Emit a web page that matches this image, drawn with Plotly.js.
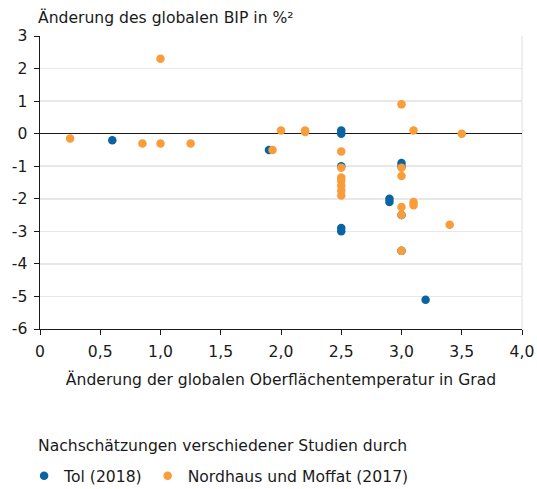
<!DOCTYPE html>
<html>
<head>
<meta charset="utf-8">
<script src="https://cdn.plot.ly/plotly-3.0.1.min.js"></script>
<style>html,body{margin:0;padding:0;background:#fff;}#chart{width:537px;height:489px;}</style>
</head>
<body>
<div id="chart"></div>
<script>
var tolX = [0.6, 1.9, 2.5, 2.5, 2.5, 2.5, 2.5, 2.9, 2.9, 3.0, 3.0, 3.0, 3.0, 3.2];
var tolY = [-0.2, -0.5, 0.1, 0.0, -1.0, -2.9, -3.0, -2.0, -2.1, -0.9, -1.0, -2.5, -3.6, -5.1];

var nmX = [0.25, 0.85, 1.0, 1.0, 1.25, 1.93, 2.0, 2.2, 2.2,
           2.5, 2.5, 2.5, 2.5, 2.5, 2.5, 2.5,
           3.0, 3.0, 3.0, 3.0, 3.0, 3.0,
           3.1, 3.1, 3.1, 3.4, 3.5];
var nmY = [-0.15, -0.3, 2.3, -0.3, -0.3, -0.5, 0.1, 0.05, 0.1,
           -0.55, -1.05, -1.35, -1.45, -1.6, -1.75, -1.9,
           0.9, -1.05, -1.3, -2.25, -2.5, -3.6,
           0.1, -2.1, -2.2, -2.8, 0.0];

var xTickVals = [0, 0.5, 1, 1.5, 2, 2.5, 3, 3.5, 4];
var xTickText = ["0", "0,5", "1,0", "1,5", "2,0", "2,5", "3,0", "3,5", "4,0"];
var yTickVals = [3, 2, 1, 0, -1, -2, -3, -4, -5, -6];
var yTickText = ["3", "2", "1", "0", "-1", "-2", "-3", "-4", "-5", "-6"];

var seriesNames = ["Tol (2018)", "Nordhaus und Moffat (2017)"];
var yTitle = "Änderung des globalen BIP in %²";
var xTitle = "Änderung der globalen Oberflächentemperatur in Grad";
var legendTitle = "Nachschätzungen verschiedener Studien durch";

var FONT = "DejaVu Sans, Verdana, sans-serif";
var FS = 15.6;
var BLUE = "#0a64a4";
var ORANGE = "#f99c3a";
var TXT = "#1a1a1a";

var traces = [
  {x: tolX, y: tolY, type: "scatter", mode: "markers", name: seriesNames[0],
   marker: {color: BLUE, size: 8.5}, cliponaxis: false},
  {x: nmX, y: nmY, type: "scatter", mode: "markers", name: seriesNames[1],
   marker: {color: ORANGE, size: 8.5}, cliponaxis: false}
];

var layout = {
  width: 537, height: 489,
  margin: {l: 40, r: 15, t: 36, b: 160, autoexpand: false},
  paper_bgcolor: "#fff", plot_bgcolor: "#fff",
  font: {family: FONT, size: FS, color: TXT},
  showlegend: true,
  legend: {orientation: "h", x: -0.033, xanchor: "left", y: -0.502, yanchor: "middle",
           font: {family: FONT, size: FS, color: TXT}, itemwidth: 30, tracegroupgap: 0,
           bgcolor: "rgba(0,0,0,0)"},
  xaxis: {range: [0, 4], tickvals: xTickVals, ticktext: xTickText,
          showgrid: false, zeroline: false, showline: true, linecolor: TXT, linewidth: 1,
          ticks: "outside", ticklen: 5, tickcolor: TXT, tickfont: {size: FS}, ticklabelstandoff: 3,
          title: {text: xTitle, font: {size: FS}, standoff: 14}, fixedrange: true},
  yaxis: {range: [-6, 3], tickvals: yTickVals, ticktext: yTickText,
          showgrid: true, gridcolor: "#e8e8e8", gridwidth: 1.5,
          zeroline: true, zerolinecolor: TXT, zerolinewidth: 1.5,
          showline: true, linecolor: TXT, linewidth: 1.5,
          ticks: "outside", ticklen: 5, tickcolor: TXT, tickfont: {size: FS}, ticklabelstandoff: 3,
          fixedrange: true},
  shapes: [{type: "line", xref: "paper", yref: "paper", x0: 1, x1: 1, y0: 0, y1: 1,
            line: {color: "#e8e8e8", width: 1.5}, layer: "below"}],
  annotations: [
    {text: yTitle, xref: "paper", yref: "paper", x: -0.008, y: 1, xanchor: "left", yanchor: "bottom",
     yshift: 7, showarrow: false, font: {size: FS}},
    {text: legendTitle, xref: "paper", yref: "paper", x: -0.008, y: -0.399, xanchor: "left", yanchor: "middle",
     showarrow: false, font: {size: FS}}
  ]
};

Plotly.newPlot("chart", traces, layout, {displayModeBar: false, staticPlot: true});
</script>
</body>
</html>
